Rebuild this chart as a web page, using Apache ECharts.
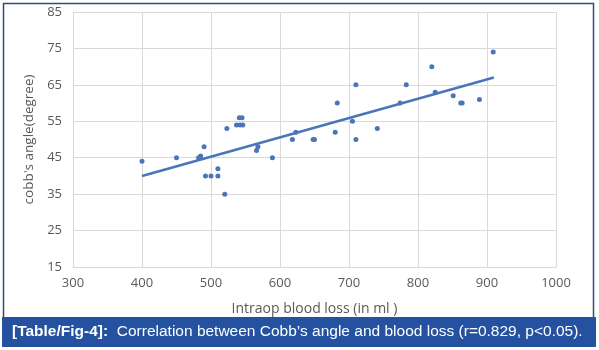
<!DOCTYPE html>
<html>
<head>
<meta charset="utf-8">
<script src="https://cdn.jsdelivr.net/npm/echarts@6/dist/echarts.min.js"></script>
<style>
  html, body { margin: 0; padding: 0; background: #fff; }
  #chart { width: 599px; height: 350px; }
</style>
</head>
<body>
<div id="chart"></div>
<script>
// blood loss (ml) vs cobb's angle (degree)
const bloodLoss = [400, 450, 482, 485, 490, 492, 500, 510, 510, 520, 523, 537, 542, 546, 541, 545,
  566, 568, 589, 618, 623, 648, 650, 680, 683, 705, 710, 710, 741, 774, 783, 820, 825, 851, 862, 864, 889, 909]
const cobbAngle = [44, 45, 45, 45.5, 48, 40, 40, 40, 42, 35, 53, 54, 54, 54, 56, 56,
  47, 48, 45, 50, 52, 50, 50, 52, 60, 55, 50, 65, 53, 60, 65, 70, 63, 62, 60, 60, 61, 74]
const trendX = [400, 910]
const trendY = [40, 67]
const xTicks = [300, 400, 500, 600, 700, 800, 900, 1000]
const yTicks = [15, 25, 35, 45, 55, 65, 75, 85]

const chart = echarts.init(document.getElementById('chart'))
const grey = '#d9d9d9'
const labelColor = '#595959'

chart.setOption({
    animation: false,
    grid: { left: 73, right: 43, top: 12, bottom: 83 },
    xAxis: {
        type: 'value',
        min: xTicks[0],
        max: xTicks[xTicks.length - 1],
        interval: 100,
        name: 'Intraop blood loss (in ml )',
        nameLocation: 'middle',
        nameGap: 35,
        nameTextStyle: { color: labelColor, fontSize: 14, fontFamily: 'Open Sans' },
        axisLine: { show: true, lineStyle: { color: grey } },
        axisTick: { show: false },
        axisLabel: { color: labelColor, fontSize: 13, fontFamily: 'Open Sans', margin: 10, formatter: v => String(v) },
        splitLine: { show: true, lineStyle: { color: grey, width: 1 } }
    },
    yAxis: {
        type: 'value',
        min: yTicks[0],
        max: yTicks[yTicks.length - 1],
        interval: 10,
        name: "cobb's angle(degree)",
        nameLocation: 'middle',
        nameGap: 34,
        nameTextStyle: { color: labelColor, fontSize: 13.5, fontFamily: 'Open Sans' },
        axisLine: { show: true, lineStyle: { color: grey } },
        axisTick: { show: false },
        axisLabel: { color: labelColor, fontSize: 13, fontFamily: 'Open Sans', margin: 11 },
        splitLine: { show: true, lineStyle: { color: grey, width: 1 } }
    },
    graphic: [
        {
            type: 'rect',
            shape: { x: 3.5, y: 3.5, width: 590, height: 320 },
            style: { fill: 'none', stroke: '#2d4d7c', lineWidth: 1.5 },
            silent: true
        },
        {
            type: 'line',
            shape: { x1: 556.5, y1: 12, x2: 556.5, y2: 267 },
            style: { stroke: grey, lineWidth: 1 },
            silent: true
        },
        {
            type: 'rect',
            shape: { x: 2, y: 317, width: 594, height: 30 },
            style: { fill: '#2452a0' },
            silent: true
        },
        {
            type: 'text',
            left: 12,
            top: 324,
            style: {
                text: '{b|[Table/Fig-4]:}  Correlation between Cobb\u2019s angle and blood loss (r=0.829, p<0.05).',
                fill: '#fff',
                font: '15.5px "Liberation Sans", Arial, sans-serif',
                rich: {
                    b: { fontWeight: 'bold', fontSize: 15.5, fill: '#fff', fontFamily: '"Liberation Sans", Arial' }
                }
            },
            silent: true
        }
    ],
    series: [
        {
            type: 'scatter',
            data: bloodLoss.map((x, i) => [x, cobbAngle[i]]),
            symbolSize: 5,
            itemStyle: { color: '#4a76b9', opacity: 1 }
        },
        {
            type: 'line',
            data: trendX.map((x, i) => [x, trendY[i]]),
            showSymbol: false,
            lineStyle: { color: '#4a76b9', width: 2.5 }
        }
    ]
})
</script>
</body>
</html>
